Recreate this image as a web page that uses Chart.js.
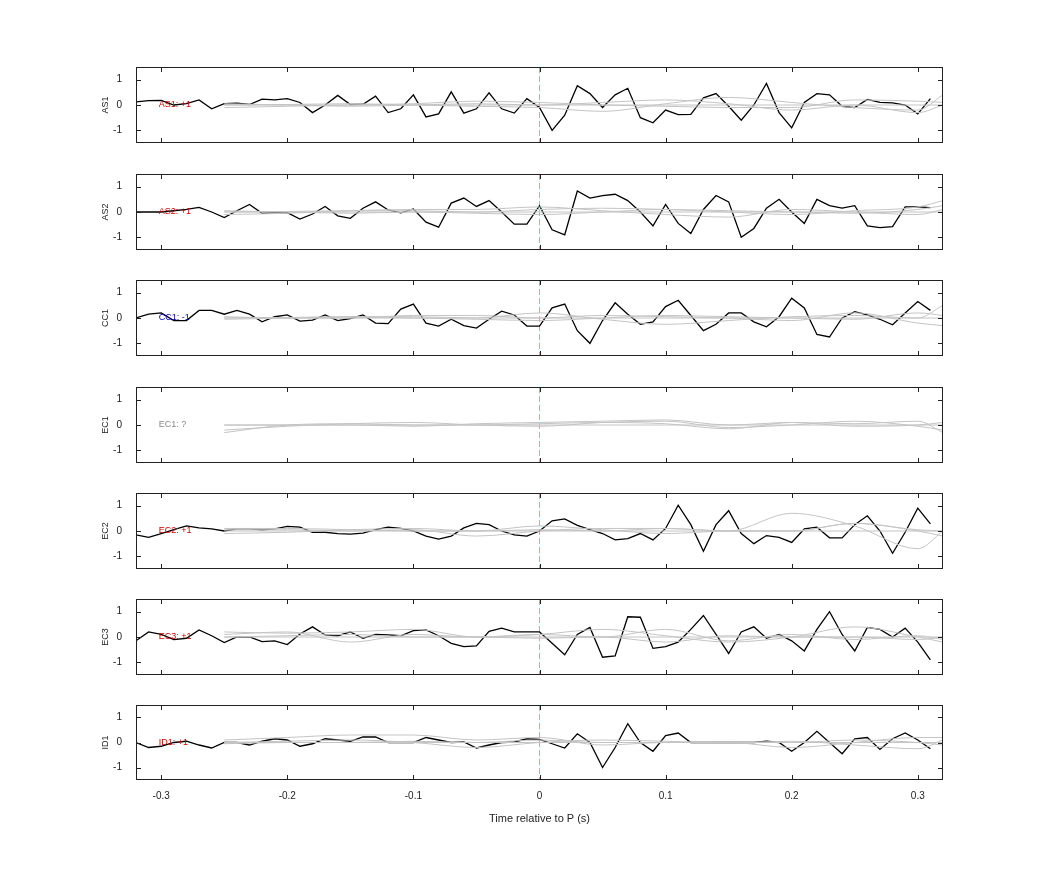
<!DOCTYPE html>
<html><head><meta charset="utf-8">
<script src="https://cdn.jsdelivr.net/npm/chart.js@4"></script>
<style>body{margin:0;background:#fff;width:1042px;height:875px;position:relative;overflow:hidden}canvas{position:absolute;left:0}</style>
</head><body>
<script>
const panelNames=["AS1","AS2","CC1","EC1","EC2","EC3","ID1"];
const panelTags=["AS1: +1","AS2: +1","CC1: -1","EC1: ?","EC2: +1","EC3: +1","ID1: +1"];
const tagColors=["#d00000","#d00000","#0000cc","#888888","#d00000","#d00000","#d00000"];
const xTickValues=[-0.3,-0.2,-0.1,0,0.1,0.2,0.3];
const xTickLabels=["-0.3","-0.2","-0.1","0","0.1","0.2","0.3"];
const yTickValues=[-1,0,1];
const blackTimes=[-0.32,-0.31,-0.30,-0.29,-0.28,-0.27,-0.26,-0.25,-0.24,-0.23,-0.22,-0.21,-0.20,-0.19,-0.18,-0.17,-0.16,-0.15,-0.14,-0.13,-0.12,-0.11,-0.10,-0.09,-0.08,-0.07,-0.06,-0.05,-0.04,-0.03,-0.02,-0.01,0,0.01,0.02,0.03,0.04,0.05,0.06,0.07,0.08,0.09,0.10,0.11,0.12,0.13,0.14,0.15,0.16,0.17,0.18,0.19,0.20,0.21,0.22,0.23,0.24,0.25,0.26,0.27,0.28,0.29,0.30,0.31];
const as1Black=[0.12,0.17,0.18,0.0,0.05,0.2,-0.15,0.05,0.07,0.02,0.23,0.2,0.25,0.1,-0.3,0.0,0.38,0.02,0.03,0.35,-0.3,-0.15,0.4,-0.47,-0.35,0.52,-0.32,-0.15,0.48,-0.15,-0.32,0.25,-0.1,-1.0,-0.4,0.76,0.45,-0.1,0.4,0.66,-0.5,-0.7,-0.2,-0.38,-0.37,0.28,0.45,-0.05,-0.6,0.0,0.85,-0.3,-0.9,0.1,0.45,0.4,-0.05,-0.1,0.22,0.1,0.08,0.0,-0.35,0.25];
const as2Black=[0.0,0.0,0.0,0.05,0.1,0.18,0.0,-0.22,0.05,0.3,-0.05,-0.03,-0.03,-0.28,-0.08,0.22,-0.15,-0.25,0.15,0.4,0.08,-0.03,0.12,-0.4,-0.6,0.35,0.55,0.22,0.45,0.0,-0.48,-0.48,0.25,-0.7,-0.9,0.83,0.55,0.65,0.7,0.45,0.0,-0.55,0.3,-0.45,-0.85,0.1,0.65,0.4,-1.0,-0.65,0.15,0.5,0.0,-0.45,0.5,0.25,0.15,0.25,-0.55,-0.62,-0.58,0.2,0.2,0.17];
const cc1Black=[0.0,0.15,0.2,-0.1,-0.1,0.3,0.3,0.15,0.3,0.15,-0.15,0.05,0.12,-0.12,-0.08,0.12,-0.1,-0.02,0.12,-0.2,-0.22,0.35,0.55,-0.2,-0.32,-0.05,-0.3,-0.4,-0.05,0.27,0.12,-0.32,-0.32,0.4,0.55,-0.5,-1.0,-0.1,0.6,0.15,-0.25,-0.15,0.45,0.7,0.1,-0.5,-0.25,0.2,0.2,-0.15,-0.35,0.05,0.78,0.4,-0.65,-0.75,0.0,0.25,0.12,-0.05,-0.27,0.2,0.65,0.3];
const ec1Black=[];
const ec2Black=[-0.15,-0.25,-0.1,0.05,0.2,0.12,0.08,0.0,0.08,0.08,0.05,0.08,0.18,0.15,-0.05,-0.05,-0.1,-0.12,-0.08,0.05,0.15,0.1,0.0,-0.2,-0.32,-0.2,0.12,0.3,0.25,0.0,-0.15,-0.2,0.0,0.4,0.48,0.22,0.05,-0.1,-0.35,-0.3,-0.1,-0.35,0.1,1.02,0.25,-0.8,0.25,0.8,-0.1,-0.5,-0.18,-0.25,-0.45,0.08,0.15,-0.27,-0.27,0.25,0.6,0.0,-0.88,-0.05,0.9,0.28];
const ec3Black=[-0.15,0.2,0.1,-0.1,-0.05,0.28,0.05,-0.22,0.0,0.0,-0.18,-0.15,-0.3,0.12,0.4,0.08,0.05,0.2,-0.05,0.1,0.08,0.05,0.25,0.28,0.05,-0.25,-0.38,-0.35,0.22,0.35,0.2,0.2,0.2,-0.25,-0.7,0.1,0.38,-0.8,-0.75,0.8,0.78,-0.45,-0.38,-0.2,0.3,0.85,0.1,-0.65,0.2,0.4,-0.05,0.1,-0.15,-0.55,0.3,1.0,0.1,-0.55,0.38,0.3,0.0,0.35,-0.2,-0.9];
const id1Black=[0.0,-0.2,-0.15,0.0,0.05,-0.1,-0.22,0.0,0.0,-0.1,0.05,0.15,0.1,-0.15,-0.05,0.15,0.1,0.05,0.22,0.22,0.0,0.0,0.0,0.2,0.1,0.0,0.02,-0.22,-0.1,0.0,0.02,0.15,0.12,-0.05,-0.22,0.35,0.0,-1.0,-0.2,0.75,0.0,-0.35,0.28,0.38,0.0,0.0,0.0,0.0,0.0,0.0,0.05,0.0,-0.35,0.0,0.45,0.0,-0.45,0.15,0.2,-0.28,0.15,0.38,0.1,-0.25];
const grayTimes=[-0.25,-0.20,-0.15,-0.10,-0.05,0,0.05,0.10,0.15,0.20,0.25,0.30,0.32];
const as1Gray=[[0,0.02,0.05,0.0,-0.05,-0.1,-0.25,0.05,0.3,0.1,-0.1,-0.2,0.4],[-0.1,-0.05,0,0.05,0.15,0.1,0.0,-0.05,-0.1,-0.1,0.2,0.15,0.1],[0.05,0.0,-0.05,0.0,0.05,0.0,0.1,0.2,0.05,-0.2,0.0,-0.3,0.0],[0,0,0,0,0,0,0,0,0,0,0,0,0]];
const as2Gray=[[0,0.02,0.05,0.05,0.0,0.1,0.15,0.1,0.0,-0.1,0.05,0.2,0.45],[-0.1,-0.05,0.05,0.1,0.1,0.2,0.05,-0.1,-0.2,0.1,0.0,-0.1,0.1],[0.05,0.0,-0.05,0.0,-0.05,-0.1,0.0,0.1,0.05,0.0,-0.05,0.1,0.25],[0,0,0,0,0,0,0,0,0,0,0,0,0]];
const cc1Gray=[[0,0.02,0.05,0.05,0.0,0.2,-0.05,-0.25,-0.1,0.05,0.1,0.0,0.5],[0.05,0.0,0.0,0.1,0.1,0.0,0.1,0.05,0.0,-0.1,0.2,-0.2,-0.3],[-0.05,0.0,0.05,0.0,-0.05,-0.1,0.0,0.1,0.05,0.0,-0.05,0.2,0.1],[0,0,0,0,0,0,0,0,0,0,0,0,0]];
const ec1Gray=[[-0.2,-0.05,0.05,0.1,0.0,-0.05,0.1,0.15,-0.1,0.0,0.15,-0.05,-0.2],[-0.3,0.0,0.05,0.0,0.0,0.05,0.1,0.05,-0.15,0.1,0.05,0.15,-0.3],[0.0,0.0,0.0,-0.05,0.05,0.1,0.15,0.2,0.0,0.1,-0.05,0.0,0.1],[0,0,0,0,0,0,0,0,0,0,0,0,0]];
const ec2Gray=[[0.05,0.05,0.0,0.05,-0.2,0.0,0.1,0.1,0.0,0.7,0.2,-0.7,0.0],[-0.1,-0.05,0.05,0.1,0.0,0.2,0.05,-0.1,0.0,0.0,0.3,0.0,-0.2],[0.1,0.1,0.05,0.0,0.0,0.05,0.0,0.1,0.0,0.0,0.3,0.05,0.0],[0,0,0,0,0,0,0,0,0,0,0,0,0]];
const ec3Gray=[[0.2,0.15,0.2,0.3,0.0,0.1,0.3,0.05,-0.2,0.0,0.4,0.0,-0.2],[0.1,0.2,-0.2,0.1,0.0,0.1,0.0,0.3,-0.15,0.1,-0.1,0.05,-0.1],[0.0,0.05,0.1,0.0,0.0,-0.05,0.0,-0.2,0.05,0.0,0.0,-0.1,0.0],[0,0,0,0,0,0,0,0,0,0,0,0,0]];
const id1Gray=[[0.1,0.2,0.3,0.3,0.1,0.2,-0.1,0.0,0.0,-0.2,0.0,0.2,0.2],[0.0,0.05,0.1,0.0,-0.2,0.0,0.1,0.05,0.0,0.05,-0.1,-0.25,0.1],[-0.05,0.0,0.0,0.05,0.0,0.1,0.0,0.0,0.0,0.0,0.1,0.0,-0.1],[0,0,0,0,0,0,0,0,0,0,0,0,0]];
const blackSeries=[as1Black,as2Black,cc1Black,ec1Black,ec2Black,ec3Black,id1Black];
const graySeries=[as1Gray,as2Gray,cc1Gray,ec1Gray,ec2Gray,ec3Gray,id1Gray];
const panelTops=[67,174,280,387,493,599,705];
const PH=75, LEFT=136, RIGHT=943, PADT=8, PADL=96, XAXH=50;

const boxPlugin={id:'box',
 beforeDatasetsDraw(c,a,o){const ctx=c.ctx,xs=c.scales.x;const x0=xs.getPixelForValue(0);const ca=c.chartArea;
  ctx.save();ctx.strokeStyle='#dba0a0';ctx.lineWidth=1;ctx.setLineDash([6,3]);ctx.beginPath();ctx.moveTo(x0,ca.top);ctx.lineTo(x0,ca.bottom);ctx.stroke();ctx.restore();},
 afterDatasetsDraw(c,a,o){const ctx=c.ctx,ca=c.chartArea,xs=c.scales.x,ys=c.scales.y;
  ctx.save();ctx.strokeStyle='#222';ctx.lineWidth=1;ctx.strokeRect(ca.left+0.5,ca.top+0.5,ca.right-ca.left-1,ca.bottom-ca.top-1);
  ctx.beginPath();
  xTickValues.forEach(v=>{const p=Math.round(xs.getPixelForValue(v))+0.5;ctx.moveTo(p,ca.top);ctx.lineTo(p,ca.top+5);ctx.moveTo(p,ca.bottom);ctx.lineTo(p,ca.bottom-5);});
  yTickValues.forEach(v=>{const p=Math.round(ys.getPixelForValue(v))+0.5;ctx.moveTo(ca.left,p);ctx.lineTo(ca.left+5,p);ctx.moveTo(ca.right,p);ctx.lineTo(ca.right-5,p);});
  ctx.stroke();
  ctx.font='9px "Liberation Sans", Arial';ctx.fillStyle=o.color;ctx.textBaseline='middle';
  ctx.fillText(o.tag,xs.getPixelForValue(-0.302),ys.getPixelForValue(0));
  ctx.restore();}};

panelNames.forEach((name,i)=>{
 const last=i===panelNames.length-1;
 const cv=document.createElement('canvas');
 const h=PH+PADT+4+(last?XAXH:13);
 cv.width=1042;cv.height=h;cv.style.top=(panelTops[i]-PADT-4)+'px';cv.style.width='1042px';cv.style.height=h+'px';
 document.body.appendChild(cv);
 const ds=[];
 graySeries[i].forEach(g=>ds.push({data:grayTimes.map((t,k)=>({x:t,y:g[k]})),borderColor:'#c4c4c4',borderWidth:1,pointRadius:0,tension:0.4,cubicInterpolationMode:'monotone'}));
 if(blackSeries[i].length) ds.push({data:blackTimes.map((t,k)=>({x:t,y:blackSeries[i][k]})),borderColor:'#000',borderWidth:1.3,pointRadius:0,tension:0});
 new Chart(cv,{type:'line',data:{datasets:ds},plugins:[boxPlugin],
  options:{responsive:false,animation:false,devicePixelRatio:1,
   layout:{padding:{top:PADT,right:1042-RIGHT,bottom:0,left:PADL}},
   plugins:{legend:{display:false},tooltip:{enabled:false},box:{tag:panelTags[i],color:tagColors[i]}},
   scales:{
    x:{type:'linear',display:last,min:-0.32,max:0.32,grid:{display:false},border:{display:false},
     afterBuildTicks(s){s.ticks=xTickValues.map(v=>({value:v}));},
     afterFit(s){s.height=last?XAXH:0;},
     ticks:{color:'#222',font:{size:10,family:'"Liberation Sans", Arial'},padding:2,callback:(v)=>xTickLabels[xTickValues.indexOf(Math.round(v*10)/10)]},
     title:{display:true,text:'Time relative to P (s)',color:'#222',font:{size:11,family:'"Liberation Sans", Arial'},padding:{top:5}}},
    y:{min:-1.5,max:1.5,grid:{display:false},border:{display:false},
     afterBuildTicks(s){s.ticks=yTickValues.map(v=>({value:v}));},
     afterFit(s){s.width=LEFT-PADL;},
     ticks:{color:'#222',font:{size:10,family:'"Liberation Sans", Arial'},padding:6},
     title:{display:true,text:name,color:'#222',font:{size:9,family:'"Liberation Sans", Arial'},padding:{bottom:0}}}
   }}});
});
</script>
</body></html>
